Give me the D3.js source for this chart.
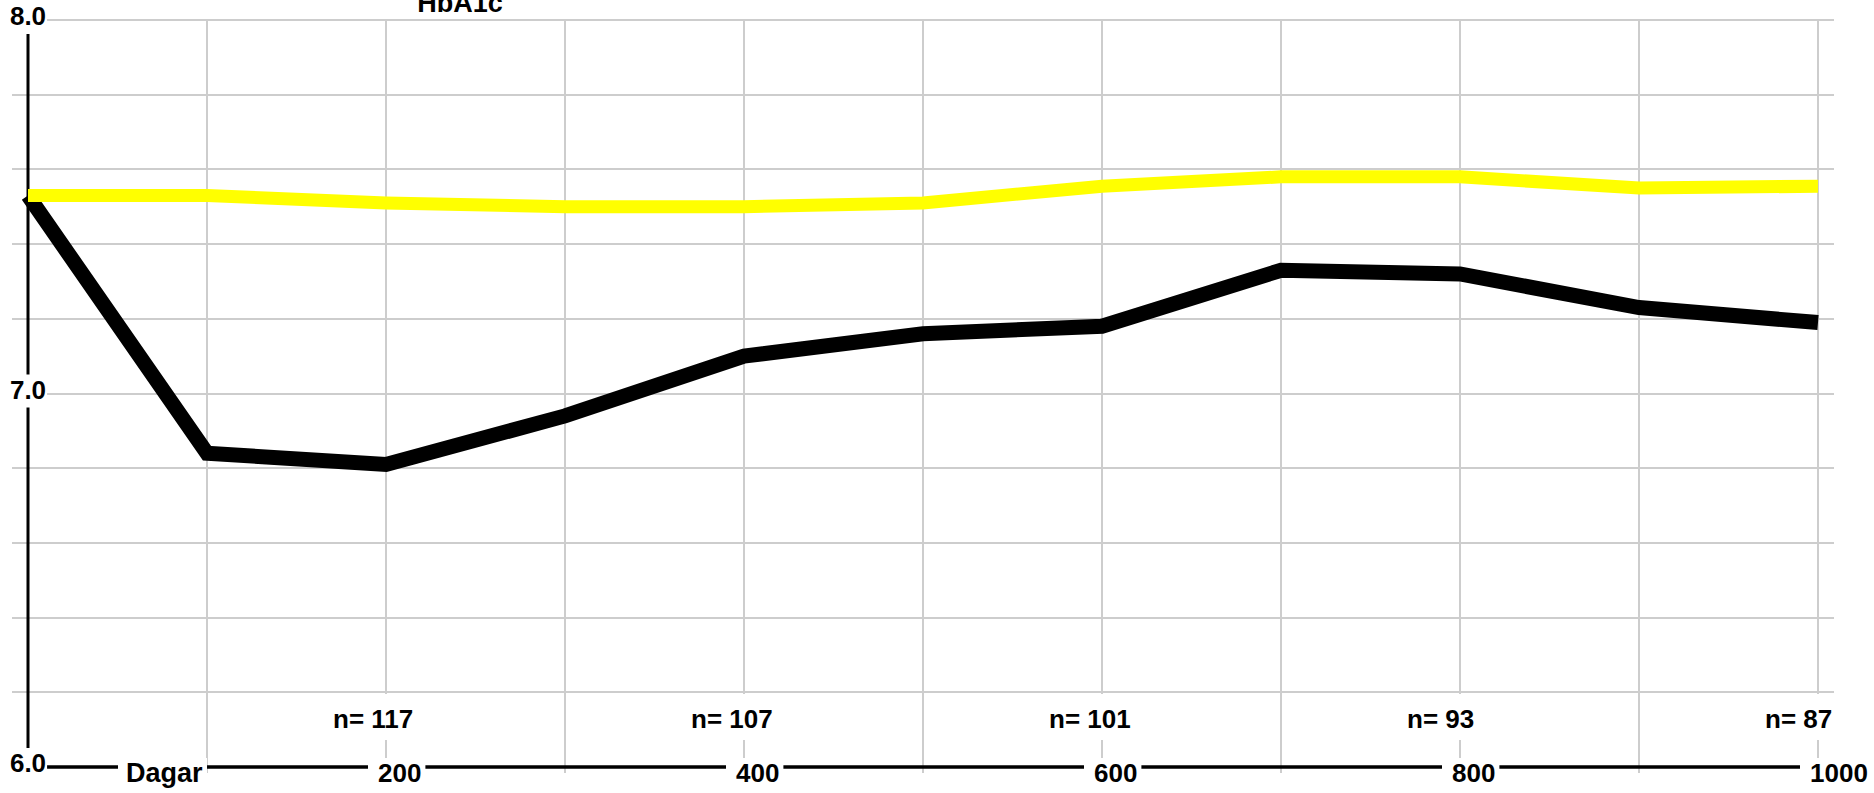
<!DOCTYPE html>
<html><head><meta charset="utf-8">
<script src="https://cdn.jsdelivr.net/npm/d3@7"></script>
<style>
html,body{margin:0;padding:0;background:#fff;overflow:hidden}
svg{display:block}
text{font-family:"Liberation Sans",Arial,sans-serif;font-weight:bold;fill:#000}
</style></head><body>
<svg id="c" width="1874" height="793"></svg>
<script>
// ---- data ----
const days = [0,100,200,300,400,500,600,700,800,900,1000];
const seriesBlack = [7.53,6.84,6.81,6.94,7.10,7.16,7.18,7.33,7.32,7.23,7.19];
const seriesYellow = [7.53,7.53,7.51,7.50,7.50,7.51,7.555,7.58,7.58,7.55,7.555];
const yGridTicks = [6.2,6.4,6.6,6.8,7.0,7.2,7.4,7.6,7.8,8.0];
const yLabelTicks = [6.0,7.0,8.0];
const xGridTicks = [0,100,200,300,400,500,600,700,800,900,1000];
const xLabelTicks = [200,400,600,800,1000];
const nLabels = ["n= 117","n= 107","n= 101","n= 93","n= 87"];
const chartTitle = "HbA1c";
const xAxisTitle = "Dagar";

// ---- layout ----
const svg = d3.select("#c");
const x = d3.scaleLinear().domain([0,1000]).range([28,1818]);
const y = d3.scaleLinear().domain([6,8]).range([767,20]);
const gridColor = "#cdcdcd";

// horizontal gridlines
svg.append("g").selectAll("line").data(yGridTicks).join("line")
  .attr("x1",12).attr("x2",1834)
  .attr("y1",d=>Math.round(y(d))).attr("y2",d=>Math.round(y(d)))
  .attr("stroke",gridColor).attr("stroke-width",2);

// vertical gridlines
svg.append("g").selectAll("line").data(xGridTicks).join("line")
  .attr("x1",d=>Math.round(x(d))).attr("x2",d=>Math.round(x(d)))
  .attr("y1",y(8)).attr("y2",773)
  .attr("stroke",gridColor).attr("stroke-width",2);

// axes lines
svg.append("line").attr("x1",x(0)).attr("x2",x(0)).attr("y1",y(8)).attr("y2",y(6))
  .attr("stroke","#000").attr("stroke-width",3);
svg.append("line").attr("x1",x(0)).attr("x2",x(1000)).attr("y1",y(6)).attr("y2",y(6))
  .attr("stroke","#000").attr("stroke-width",3.5);

// data lines
const line = d3.line().x((d,i)=>x(days[i])).y(d=>y(d));
svg.append("path").datum(seriesBlack).attr("d",line)
  .attr("fill","none").attr("stroke","#000").attr("stroke-width",15)
  .attr("stroke-linejoin","miter").attr("stroke-linecap","butt");
svg.append("path").datum(seriesYellow).attr("d",line)
  .attr("fill","none").attr("stroke","#ffff00").attr("stroke-width",13)
  .attr("stroke-linejoin","miter").attr("stroke-linecap","butt");

// boxed label helper
function boxedLabel(txt, px, py, anchor, size, pad){
  const g = svg.append("g");
  const t = g.append("text").attr("x",px).attr("y",py)
    .attr("text-anchor",anchor).attr("font-size",size).text(txt);
  const b = t.node().getBBox();
  g.insert("rect","text")
    .attr("x",b.x-pad[3]).attr("y",b.y-pad[0])
    .attr("width",b.width+pad[1]+pad[3]).attr("height",b.height+pad[0]+pad[2])
    .attr("fill","#fff");
  return g;
}

// y labels
yLabelTicks.forEach(v=>{
  boxedLabel(d3.format(".1f")(v), x(0), y(v)+5, "middle", 26, [0,1,3,1]);
});

// x labels
xLabelTicks.forEach(v=>{
  boxedLabel(String(v), x(v)-8, 782, "start", 26, [0,4,2,10]);
});
boxedLabel(xAxisTitle, 126, 782, "start", 27, [0,4,2,8]);

// n labels
xLabelTicks.forEach((v,i)=>{
  boxedLabel(nLabels[i], x(v)-53, 728, "start", 26, [10,3,6,3]);
});

// title (cut off at top, as in the reference)
svg.append("text").attr("x",460).attr("y",12).attr("text-anchor","middle")
  .attr("font-size",27).text(chartTitle);
</script>
</body></html>
